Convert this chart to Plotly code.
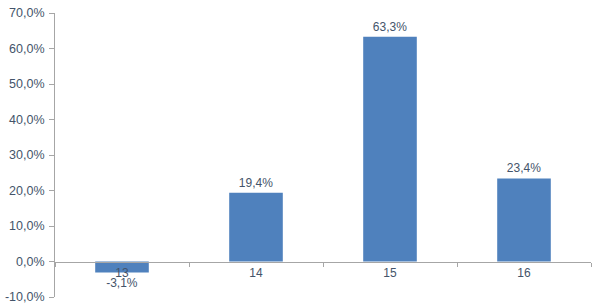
import plotly.graph_objects as go

categories = ["13", "14", "15", "16"]
values = [-3.1, 19.4, 63.3, 23.4]
labels = ["-3,1%", "19,4%", "63,3%", "23,4%"]
y_ticks = [-10, 0, 10, 20, 30, 40, 50, 60, 70]
y_tick_text = ["-10,0%", "0,0%", "10,0%", "20,0%", "30,0%", "40,0%", "50,0%", "60,0%", "70,0%"]

font_color = "#44546a"
axis_color = "#a6a6a6"

fig = go.Figure(
    go.Bar(
        x=categories,
        y=values,
        text=labels,
        textposition="outside",
        textfont=dict(size=12, color=font_color),
        marker=dict(color="#4f81bd", line=dict(width=0)),
        width=0.4,
        cliponaxis=False,
    )
)

fig.update_layout(
    width=600,
    height=307,
    margin=dict(l=55, r=9, t=13, b=10),
    paper_bgcolor="white",
    plot_bgcolor="white",
    showlegend=False,
    font=dict(family="Liberation Sans, Arial, sans-serif", size=13, color=font_color),
)

fig.update_yaxes(
    range=[-10, 70],
    tickmode="array",
    tickvals=y_ticks,
    ticktext=y_tick_text,
    showgrid=False,
    zeroline=False,
    showline=True,
    linecolor=axis_color,
    linewidth=1,
    ticks="outside",
    ticklen=5,
    tickcolor=axis_color,
    ticklabelstandoff=2,
    automargin=False,
    tickfont=dict(size=12.5, color=font_color),
)

fig.update_xaxes(
    anchor="free",
    position=10 / 80,
    showline=True,
    linecolor=axis_color,
    linewidth=1,
    ticks="outside",
    tickson="boundaries",
    ticklen=4,
    tickcolor=axis_color,
    showgrid=False,
    automargin=False,
    tickfont=dict(size=12, color=font_color),
)

fig.write_html("out.html")
